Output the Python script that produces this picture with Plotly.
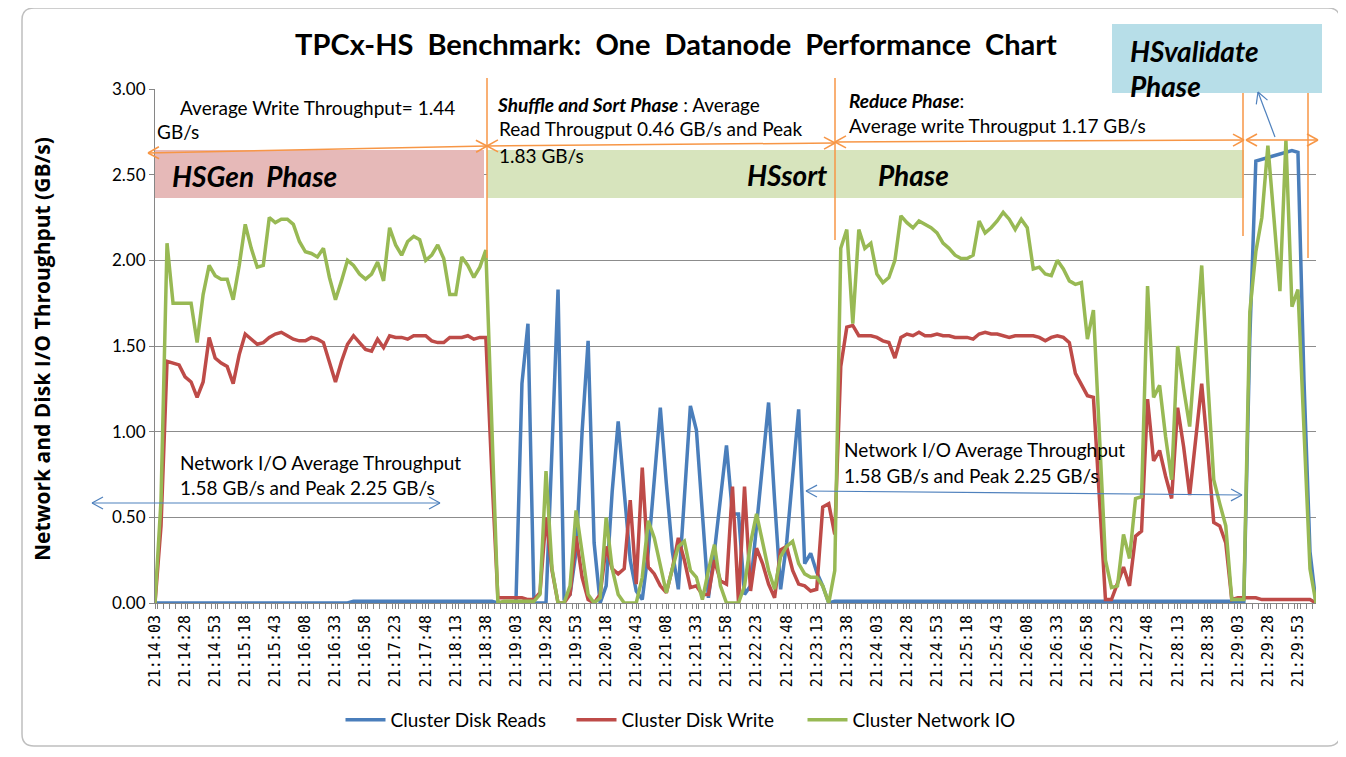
import pandas as pd
import plotly.graph_objects as go

# ---------------- data (5-second samples, 21:14:03 .. 21:30:08) ----------------
start_time = "2015-06-01 21:14:03"
n_points = 194
times = [pd.Timestamp(start_time) + pd.Timedelta(seconds=5 * i) for i in range(n_points)]

disk_reads = (
    [0.0] * 33 + [0.01] * 24 +
    [0.0, 0.0, 0.0, 0.0, 1.28, 1.63, 0.0, 0.0, 0.0, 0.9,
     1.83, 0.03, 0.05, 0.3, 1.0, 1.53, 0.35, 0.0, 0.1, 0.65,
     1.06, 0.65, 0.25, 0.07, 0.02, 0.3, 0.75, 1.14, 0.70, 0.3,
     0.08, 0.6, 1.15, 1.01, 0.5, 0.03, 0.3, 0.6, 0.92, 0.52,
     0.52, 0.05, 0.1, 0.45, 0.8, 1.17, 0.6, 0.08, 0.35, 0.75,
     1.13, 0.23, 0.29, 0.18, 0.1, 0.0] +
    [0.01] * 68 +
    [0.0, 1.55, 2.58, 2.59, 2.60, 2.61, 2.62, 2.63, 2.64, 2.63, 1.3, 0.3, 0.0]
)

disk_write = [
    0.0, 0.45, 1.41, 1.40, 1.39, 1.32, 1.29, 1.20, 1.29, 1.55,
    1.43, 1.40, 1.38, 1.28, 1.45, 1.57, 1.54, 1.51, 1.52, 1.55,
    1.57, 1.58, 1.56, 1.54, 1.53, 1.53, 1.55, 1.54, 1.52, 1.41,
    1.29, 1.41, 1.51, 1.56, 1.52, 1.48, 1.47, 1.54, 1.49, 1.56,
    1.55, 1.55, 1.54, 1.56, 1.56, 1.56, 1.53, 1.52, 1.52, 1.55,
    1.55, 1.55, 1.56, 1.54, 1.55, 1.55, 0.75, 0.03, 0.03, 0.03,
    0.03, 0.03, 0.02, 0.02, 0.06, 0.50, 0.19, 0.0, 0.0, 0.05,
    0.39, 0.15, 0.02, 0.0, 0.05, 0.33, 0.20, 0.17, 0.20, 0.60,
    0.11, 0.79, 0.21, 0.17, 0.10, 0.06, 0.20, 0.38, 0.25, 0.09,
    0.10, 0.05, 0.05, 0.25, 0.13, 0.11, 0.68, 0.0, 0.68, 0.07,
    0.32, 0.23, 0.11, 0.03, 0.31, 0.33, 0.19, 0.11, 0.10, 0.07,
    0.08, 0.56, 0.58, 0.40, 1.38, 1.61, 1.62, 1.56, 1.56, 1.56,
    1.55, 1.53, 1.52, 1.43, 1.55, 1.57, 1.56, 1.58, 1.56, 1.56,
    1.57, 1.56, 1.56, 1.55, 1.55, 1.55, 1.54, 1.57, 1.58, 1.57,
    1.57, 1.56, 1.55, 1.56, 1.56, 1.56, 1.56, 1.55, 1.53, 1.55,
    1.56, 1.55, 1.52, 1.34, 1.28, 1.21, 1.20, 0.62, 0.02, 0.02,
    0.11, 0.21, 0.10, 0.39, 0.42, 1.19, 0.83, 0.89, 0.74, 0.61,
    1.14, 0.91, 0.63, 0.97, 1.28, 0.89, 0.47, 0.45, 0.35, 0.02,
    0.03, 0.03, 0.03, 0.03, 0.02, 0.02, 0.02, 0.02, 0.02, 0.02,
    0.02, 0.02, 0.02, 0.0,
]

network_io = [
    0.0, 0.6, 2.10, 1.75, 1.75, 1.75, 1.75, 1.52, 1.80, 1.97,
    1.91, 1.89, 1.89, 1.77, 1.97, 2.21, 2.07, 1.96, 1.97, 2.25,
    2.22, 2.24, 2.24, 2.21, 2.11, 2.05, 2.04, 2.02, 2.07, 1.90,
    1.77, 1.88, 2.00, 1.97, 1.92, 1.89, 1.92, 1.99, 1.88, 2.19,
    2.09, 2.03, 2.11, 2.14, 2.12, 2.00, 2.03, 2.09, 2.01, 1.80,
    1.80, 2.02, 1.97, 1.90, 1.96, 2.06, 1.0, 0.0, 0.01, 0.01,
    0.01, 0.01, 0.01, 0.01, 0.05, 0.77, 0.20, 0.0, 0.0, 0.10,
    0.54, 0.28, 0.05, 0.0, 0.03, 0.50, 0.20, 0.05, 0.0, 0.0,
    0.0, 0.15, 0.48, 0.38, 0.22, 0.06, 0.20, 0.33, 0.36, 0.19,
    0.15, 0.02, 0.19, 0.34, 0.10, 0.0, 0.0, 0.0, 0.10, 0.35,
    0.52, 0.35, 0.19, 0.08, 0.27, 0.33, 0.36, 0.23, 0.17, 0.15,
    0.15, 0.10, 0.0, 0.19, 2.07, 2.18, 1.63, 2.18, 2.07, 2.10,
    1.92, 1.87, 1.90, 2.00, 2.26, 2.22, 2.19, 2.23, 2.21, 2.19,
    2.16, 2.10, 2.07, 2.03, 2.01, 2.01, 2.03, 2.23, 2.16, 2.19,
    2.23, 2.28, 2.24, 2.18, 2.24, 2.19, 1.95, 1.96, 1.92, 1.91,
    2.00, 1.95, 1.88, 1.86, 1.87, 1.54, 1.71, 0.97, 0.25, 0.09,
    0.10, 0.40, 0.26, 0.61, 0.62, 1.85, 1.20, 1.27, 0.97, 0.72,
    1.50, 1.25, 1.03, 1.50, 1.97, 1.30, 0.72, 0.58, 0.45, 0.02,
    0.02, 0.02, 1.70, 2.05, 2.25, 2.67, 2.25, 1.82, 2.70, 1.73,
    1.83, 1.0, 0.2, 0.0,
]

series_names = ["Cluster Disk Reads", "Cluster Disk Write", "Cluster Network IO"]
series_colors = ["#4A7EBB", "#BE4B48", "#98B954"]

# ---------------- geometry helpers (page pixel -> paper) ----------------
PAGE_W, PAGE_H = 1346, 757
OFF = 8                      # default body margin of the html page
W, H = PAGE_W - OFF, PAGE_H - OFF
L, R, T, B = 155, 1316, 89, 603   # plot area in page pixels


def px(x):
    return (x - L) / (R - L)


def py(y):
    return (B - y) / (B - T)


FONT = "Lato"
shapes = []
annotations = []


def seg(x0, y0, x1, y1, color, width=1.5):
    shapes.append(dict(type="line", xref="paper", yref="paper",
                       x0=px(x0), y0=py(y0), x1=px(x1), y1=py(y1),
                       line=dict(color=color, width=width), layer="above"))


def arrow(x0, y0, x1, y1, color, width=1.5, both=True, hl=11, hw=6):
    seg(x0, y0, x1, y1, color, width)
    dx, dy = x1 - x0, y1 - y0
    d = (dx * dx + dy * dy) ** 0.5
    ux, uy = dx / d, dy / d
    nx, ny = -uy, ux
    heads = [(x1, y1, ux, uy)]
    if both:
        heads.append((x0, y0, -ux, -uy))
    for tx, ty, vx, vy in heads:
        for s in (1, -1):
            seg(tx, ty, tx - hl * vx + s * hw * nx, ty - hl * vy + s * hw * ny, color, width)


def rect(x0, y0, x1, y1, fill):
    shapes.append(dict(type="rect", xref="paper", yref="paper",
                       x0=px(x0), y0=py(y1), x1=px(x1), y1=py(y0),
                       fillcolor=fill, line=dict(width=0), layer="above"))


def text(x, y, s, size=19, color="#000000", anchor="left", family=FONT):
    annotations.append(dict(xref="paper", yref="paper", x=px(x), y=py(y),
                            xanchor=anchor, yanchor="middle", text=s, showarrow=False,
                            font=dict(family=family, size=size, color=color)))


# ---------------- figure ----------------
fig = go.Figure()
for name, vals, col in zip(series_names, [disk_reads, disk_write, network_io], series_colors):
    fig.add_trace(go.Scatter(x=times, y=vals, mode="lines", name=name,
                             line=dict(color=col, width=3.5)))

# outer chart border (rounded)
r = 12
bx0, by0, bx1, by1 = 22, 8, 1340, 746
path = (f"M{px(bx0 + r)},{py(by0)} L{px(bx1 - r)},{py(by0)} Q{px(bx1)},{py(by0)} {px(bx1)},{py(by0 + r)} "
        f"L{px(bx1)},{py(by1 - r)} Q{px(bx1)},{py(by1)} {px(bx1 - r)},{py(by1)} "
        f"L{px(bx0 + r)},{py(by1)} Q{px(bx0)},{py(by1)} {px(bx0)},{py(by1 - r)} "
        f"L{px(bx0)},{py(by0 + r)} Q{px(bx0)},{py(by0)} {px(bx0 + r)},{py(by0)} Z")
shapes.append(dict(type="path", xref="paper", yref="paper", path=path,
                   line=dict(color="#BFBFBF", width=1.5), layer="below"))

# phase boxes
rect(155, 150, 484, 198, "#E6B9B8")
rect(487, 150, 1244, 198, "#D7E4BD")
rect(1112, 24, 1322, 93, "#B7DEE8")

ORANGE = "#F79646"
BLUE = "#4F81BD"
# orange phase arrows
arrow(148, 153, 487, 146, ORANGE)
arrow(487, 146, 835, 143, ORANGE)
arrow(835, 142, 1244, 140, ORANGE)
arrow(1246, 140, 1318, 140, ORANGE)
seg(487, 78, 487, 258, ORANGE)
seg(835, 78, 835, 240, ORANGE)
seg(1243, 93, 1243, 236, ORANGE)
seg(1308, 93, 1308, 258, ORANGE)
# blue arrows
arrow(1275, 137, 1258, 92, BLUE, width=1.2, both=False)
arrow(92, 503, 440, 503, BLUE, width=1.2)
arrow(806, 491, 1242, 495, BLUE, width=1.2)

# texts
text(178, 107, "Average Write Throughput= 1.44")
text(155, 131, "GB/s")
text(495, 104, "<b><i>Shuffle and Sort Phase</i></b> : Average")
text(497, 129, "Read Througput 0.46 GB/s and Peak")
text(497, 155, "1.83 GB/s")
text(847, 100, "<b><i>Reduce Phase</i></b>:")
text(847, 126, "Average write Througput 1.17 GB/s")
text(170, 176, "<b><i>HSGen\u00a0\u00a0Phase</i></b>", size=28)
text(745, 175, "<b><i>HSsort</i></b>", size=28)
text(876, 175, "<b><i>Phase</i></b>", size=28)
text(1128, 51, "<b><i>HSvalidate</i></b>", size=28)
text(1128, 86, "<b><i>Phase</i></b>", size=28)
text(178, 462, "Network I/O Average Throughput")
text(178, 487, "1.58 GB/s and Peak 2.25 GB/s")
text(842, 449, "Network I/O Average Throughput")
text(842, 475, "1.58 GB/s and Peak 2.25 GB/s")

# y axis title as rotated annotation
annotations.append(dict(xref="paper", yref="paper", x=px(42), y=py(349),
                        xanchor="center", yanchor="middle", textangle=-90,
                        text="<b>Network and Disk I/O Throughput (GB/s)</b>", showarrow=False,
                        font=dict(family="Open Sans", size=21, color="#000000")))

fig.update_layout(
    width=W, height=H,
    margin=dict(l=L - OFF, r=PAGE_W - R, t=T - OFF, b=PAGE_H - B),
    paper_bgcolor="white", plot_bgcolor="white",
    title=dict(text="<b>TPCx-HS  Benchmark:  One  Datanode  Performance  Chart</b>",
               x=(676 - OFF) / W, xanchor="center", y=1 - (45 - OFF) / H, yanchor="middle",
               font=dict(family=FONT, size=29, color="#000000")),
    showlegend=True,
    legend=dict(orientation="h", x=px(687), xanchor="center", y=py(720), yanchor="middle",
                font=dict(family=FONT, size=19, color="#000000"),
                entrywidth=176, entrywidthmode="pixels", itemwidth=40,
                bgcolor="rgba(0,0,0,0)"),
    shapes=shapes, annotations=annotations,
)

fig.update_xaxes(
    type="date", range=[times[0], times[-1]],
    tick0=times[0], dtick=25000, tickformat="%H:%M:%S", tickangle=-90,
    ticks="outside", ticklen=5, tickcolor="#868686",
    minor=dict(dtick=5000, ticks="outside", ticklen=5, tickcolor="#868686", showgrid=False),
    showline=True, linecolor="#868686", linewidth=1, showgrid=False, zeroline=False,
    tickfont=dict(family="DejaVu Sans Mono", size=15, color="#000000"),
)
fig.update_yaxes(
    range=[0, 3], dtick=0.5, tickformat=".2f",
    ticks="outside", ticklen=5, tickcolor="#868686",
    showline=True, linecolor="#868686", linewidth=1,
    showgrid=True, gridcolor="#8C8C8C", gridwidth=1, zeroline=False,
    tickfont=dict(family=FONT, size=17, color="#000000"),
)

fig.write_html("out.html")
